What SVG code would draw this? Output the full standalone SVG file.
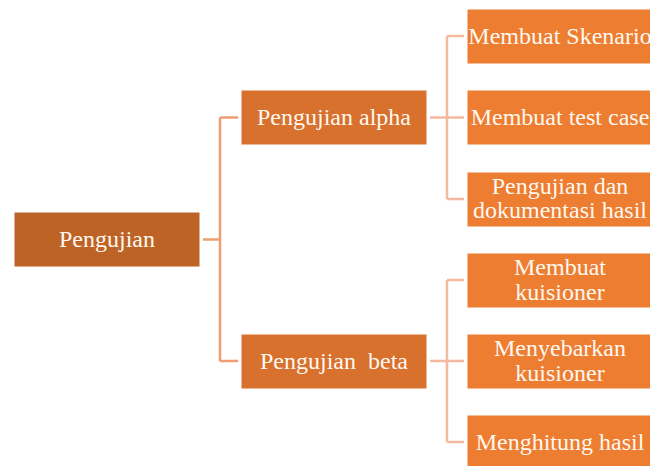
<svg xmlns="http://www.w3.org/2000/svg" width="650" height="466" viewBox="0 0 650 466">
<style>
.box{stroke:#ffffff;stroke-width:1}
.l1{fill:#BE6326}
.l2{fill:#D8702E}
.l3{fill:#ED7D31}
text{font-family:"Liberation Serif","Times New Roman",serif;font-size:24px;fill:#FFF8F0;text-anchor:middle}
.c1{stroke:#F19D74;stroke-width:2.5;fill:none}
.c2{stroke:#F5B9A0;stroke-width:2.5;fill:none}
</style>
<rect width="650" height="466" fill="#ffffff"/>
<g id="connectors">
<path class="c1" d="M203 239.5H220M220 117.5V361M220 117.5H238M220 361H238"/>
<path class="c2" d="M430 117.5H447M447 36V199M447 36H464M447 117.5H464M447 199H464"/>
<path class="c2" d="M430 361H447M447 280V442M447 280H464M447 361H464M447 442H464"/>
</g>
<g id="n-pengujian"><rect class="box l1" x="14" y="212" width="186" height="55"/><text x="107" y="247">Pengujian</text></g>
<g id="n-alpha"><rect class="box l2" x="241" y="90" width="186" height="55"/><text x="334" y="125">Pengujian alpha</text></g>
<g id="n-beta"><rect class="box l2" x="241" y="334" width="186" height="55"/><text x="334" y="369" xml:space="preserve">Pengujian  beta</text></g>
<g id="n-skenario"><rect class="box l3" x="467" y="9" width="186" height="55"/><text x="560" y="44">Membuat Skenario</text></g>
<g id="n-testcase"><rect class="box l3" x="467" y="90" width="186" height="55"/><text x="560" y="125">Membuat test case</text></g>
<g id="n-dokumentasi"><rect class="box l3" x="467" y="172" width="186" height="55"/><text x="560" y="194">Pengujian dan</text><text x="560" y="218">dokumentasi hasil</text></g>
<g id="n-kuisioner"><rect class="box l3" x="467" y="253" width="186" height="55"/><text x="560" y="275">Membuat</text><text x="560" y="300">kuisioner</text></g>
<g id="n-menyebarkan"><rect class="box l3" x="467" y="334" width="186" height="55"/><text x="560" y="356">Menyebarkan</text><text x="560" y="381">kuisioner</text></g>
<g id="n-menghitung"><rect class="box l3" x="467" y="415" width="186" height="55"/><text x="560" y="450">Menghitung hasil</text></g>
</svg>
